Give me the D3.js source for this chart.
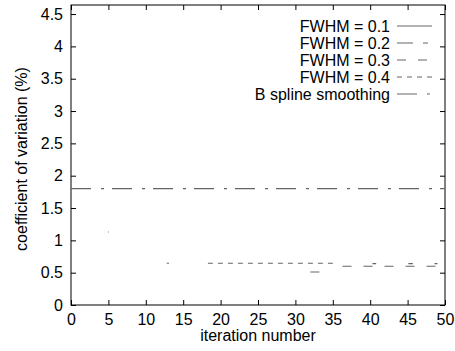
<!DOCTYPE html>
<html>
<head>
<meta charset="utf-8">
<script src="https://cdn.jsdelivr.net/npm/d3@7"></script>
<style>
  body { margin: 0; background: #fff; }
  text { font-family: "Liberation Sans", Arial, Helvetica, sans-serif; font-size: 16px; fill: #000; }
</style>
</head>
<body>
<svg id="chart" width="455" height="351"></svg>
<script>
// series values: iteration number / coefficient of variation (%), null = gap
const fwhm01Iter = [4.95, 5.05, null, 12.8, 13.1, null, 32.0, 33.2];
const fwhm01Cv   = [1.13, 1.13, null, 0.645, 0.645, null, 0.51, 0.51];
const fwhm02Iter = [40.3, 40.8, null, 45.1, 45.7, null, 48.6, 49.0];
const fwhm02Cv   = [0.64, 0.64, null, 0.64, 0.64, null, 0.64, 0.64];
const fwhm03Iter = [36.3, 40, 45, 49.8];
const fwhm03Cv   = [0.60, 0.60, 0.60, 0.60];
const fwhm04Iter = [18.3, 20, 25, 30, 35.2];
const fwhm04Cv   = [0.645, 0.645, 0.645, 0.645, 0.645];
const bsplineIter = [0, 5, 10, 15, 20, 25, 30, 35, 40, 45, 50];
const bsplineCv   = [1.8, 1.8, 1.8, 1.8, 1.8, 1.8, 1.8, 1.8, 1.8, 1.8, 1.8];

const seriesNames = ["FWHM = 0.1", "FWHM = 0.2", "FWHM = 0.3", "FWHM = 0.4", "B spline smoothing"];
const xTicks = [0, 5, 10, 15, 20, 25, 30, 35, 40, 45, 50];
const yTicks = [0, 0.5, 1, 1.5, 2, 2.5, 3, 3.5, 4, 4.5];

const margin = {top: 5, right: 10, bottom: 46, left: 71};
const width = 455 - margin.left - margin.right;
const height = 351 - margin.top - margin.bottom;

const svg = d3.select("#chart");
const g = svg.append("g").attr("transform", `translate(${margin.left},${margin.top})`);

const x = d3.scaleLinear().domain([0, 50]).range([0, width]);
const y = d3.scaleLinear().domain([0, 4.64]).range([height, 0]);

const series = [
  {iter: fwhm01Iter, cv: fwhm01Cv, dash: null},
  {iter: fwhm02Iter, cv: fwhm02Cv, dash: "16,10,5,10"},
  {iter: fwhm03Iter, cv: fwhm03Cv, dash: "9,12"},
  {iter: fwhm04Iter, cv: fwhm04Cv, dash: "5,5"},
  {iter: bsplineIter, cv: bsplineCv, dash: "20,10,3,8"}
];

// axes, ticks inward and mirrored
const xa = g.append("g").attr("transform", `translate(0,${height})`)
  .call(d3.axisBottom(x).tickValues(xTicks).tickSizeInner(-5).tickSizeOuter(0).tickPadding(9));
const xt = g.append("g")
  .call(d3.axisTop(x).tickValues(xTicks).tickSizeInner(-5).tickSizeOuter(0).tickFormat(""));
const ya = g.append("g")
  .call(d3.axisLeft(y).tickValues(yTicks).tickSizeInner(-5).tickSizeOuter(0).tickPadding(8).tickFormat(d3.format("")));
const yr = g.append("g").attr("transform", `translate(${width},0)`)
  .call(d3.axisRight(y).tickValues(yTicks).tickSizeInner(-5).tickSizeOuter(0).tickFormat(""));

[xa, xt, ya, yr].forEach(a => {
  a.select(".domain").remove();
  a.selectAll("line").attr("stroke", "#000");
  a.selectAll("text").attr("font-size", 16).attr("font-family", null);
});
xa.selectAll("text").attr("font-size", 15.5);

g.append("rect")
  .attr("x", 0).attr("y", 0).attr("width", width).attr("height", height)
  .attr("fill", "none").attr("stroke", "#000").attr("stroke-width", 1);

// lines
const line = d3.line()
  .defined(d => d[0] !== null)
  .x(d => x(d[0]))
  .y(d => y(d[1]));

series.forEach(s => {
  const pts = s.iter.map((v, i) => [v, s.cv[i]]);
  g.append("path")
    .datum(pts)
    .attr("d", line)
    .attr("fill", "none")
    .attr("stroke", "#666")
    .attr("stroke-width", 1.1)
    .attr("stroke-dasharray", s.dash);
});

// legend
const leg = svg.append("g");
seriesNames.forEach((name, i) => {
  const ly = 26 + i * 17;
  leg.append("text")
    .attr("x", 390).attr("y", ly).attr("dy", "0.35em")
    .attr("text-anchor", "end")
    .text(name);
  leg.append("line")
    .attr("x1", 397).attr("x2", 432).attr("y1", ly).attr("y2", ly)
    .attr("stroke", "#666").attr("stroke-width", 1.1)
    .attr("stroke-dasharray", series[i].dash);
});

// axis titles
svg.append("text")
  .attr("x", margin.left + width / 2).attr("y", 341)
  .attr("text-anchor", "middle")
  .text("iteration number");

svg.append("text")
  .attr("transform", `translate(21,${margin.top + height / 2 + 4}) rotate(-90)`)
  .attr("text-anchor", "middle")
  .attr("dy", "0.35em")
  .text("coefficient of variation (%)");
</script>
</body>
</html>
